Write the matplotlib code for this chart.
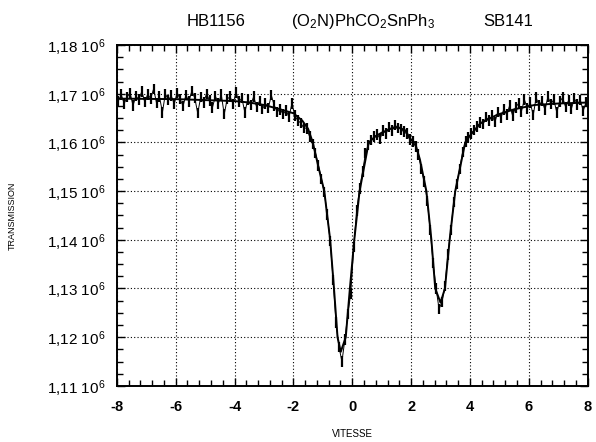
import numpy as np
import matplotlib
matplotlib.use("Agg")
import matplotlib.pyplot as plt
from matplotlib.ticker import MultipleLocator, FuncFormatter

plt.rcParams['font.family'] = ['Liberation Sans', 'DejaVu Sans']

# measured counts (x 1e6), one per channel from -7.95 to 7.95 mm/s
counts = [
    1.1685, 1.1698, 1.1680, 1.1693, 1.1702, 1.1676, 1.1695, 1.1688, 1.1705, 1.1683,
    1.1699, 1.1690, 1.1710, 1.1681, 1.1694, 1.1662, 1.1700, 1.1687, 1.1696, 1.1679,
    1.1702, 1.1689, 1.1675, 1.1697, 1.1684, 1.1706, 1.1691, 1.1660, 1.1693, 1.1682,
    1.1700, 1.1686, 1.1672, 1.1695, 1.1680, 1.1698, 1.1658, 1.1689, 1.1694, 1.1679,
    1.1703, 1.1684, 1.1691, 1.1662, 1.1688, 1.1677, 1.1694, 1.1673, 1.1685, 1.1669,
    1.1680, 1.1671, 1.1697, 1.1676, 1.1663, 1.1668, 1.1658, 1.1666, 1.1652, 1.1680,
    1.1655, 1.1645, 1.1640, 1.1630, 1.1629, 1.1612, 1.1597, 1.1578, 1.1553, 1.1525,
    1.1498, 1.1452, 1.1398, 1.1318, 1.1230, 1.1180, 1.1150, 1.1195, 1.1248, 1.1290,
    1.1385, 1.1460, 1.1505, 1.1540, 1.1578, 1.1595, 1.1605, 1.1612, 1.1616, 1.1608,
    1.1625, 1.1618, 1.1632, 1.1625, 1.1636, 1.1630, 1.1627, 1.1622, 1.1618, 1.1606,
    1.1602, 1.1592, 1.1575, 1.1545, 1.1520, 1.1480, 1.1420, 1.1352, 1.1300, 1.1258,
    1.1272, 1.1305, 1.1370, 1.1420, 1.1478, 1.1515, 1.1545, 1.1580, 1.1602, 1.1610,
    1.1618, 1.1626, 1.1633, 1.1641, 1.1638, 1.1652, 1.1645, 1.1655, 1.1642, 1.1663,
    1.1650, 1.1668, 1.1657, 1.1676, 1.1655, 1.1672, 1.1680, 1.1664, 1.1688, 1.1670,
    1.1682, 1.1656, 1.1692, 1.1676, 1.1685, 1.1667, 1.1694, 1.1679, 1.1688, 1.1662,
    1.1684, 1.1692, 1.1673, 1.1686, 1.1670, 1.1690, 1.1678, 1.1687, 1.1665, 1.1683,
]
velocity = np.linspace(-7.95, 7.95, len(counts))
errors = np.sqrt(np.array(counts) * 1e6) / 1e6

# fitted doublet
fit_v = [-8.0, -6.0, -5.0, -4.0, -3.5, -3.0, -2.5, -2.0, -1.7, -1.5, -1.34, -1.15,
         -0.95, -0.75, -0.62, -0.50, -0.39, -0.22, -0.08, 0.07, 0.25, 0.56, 0.8,
         1.0, 1.3, 1.57, 1.8, 2.0, 2.13, 2.3, 2.52, 2.69, 2.82, 3.0, 3.15, 3.31,
         3.5, 3.84, 4.0, 4.37, 4.93, 5.5, 6.2, 7.0, 8.0]
fit_t = [1.1690, 1.1689, 1.1687, 1.1685, 1.1682, 1.1677, 1.1669, 1.1660, 1.1645,
         1.1628, 1.1600, 1.1550, 1.1500, 1.1400, 1.1300, 1.1200, 1.1170, 1.1200,
         1.1300, 1.1400, 1.1500, 1.1600, 1.1613, 1.1620, 1.1628, 1.1631, 1.1625,
         1.1605, 1.1600, 1.1565, 1.1500, 1.1400, 1.1300, 1.1271, 1.1300, 1.1400,
         1.1500, 1.1600, 1.1614, 1.1640, 1.1657, 1.1668, 1.1677, 1.1680, 1.1682]

fig = plt.figure(figsize=(5.96, 4.42), dpi=100)
ax = fig.add_axes([0.196, 0.127, 0.790, 0.771])

ax.errorbar(velocity, counts, yerr=errors, fmt='none', ecolor='black',
            elinewidth=1.6, capsize=0)
ax.plot(velocity, counts, color='black', lw=0.7)
ax.plot(fit_v, fit_t, color='black', lw=1.4)

ax.set_xlim(-8, 8)
ax.set_ylim(1.11, 1.18)
ax.xaxis.set_major_locator(MultipleLocator(2))
ax.xaxis.set_minor_locator(MultipleLocator(0.4))
ax.yaxis.set_major_locator(MultipleLocator(0.01))
ax.yaxis.set_minor_locator(MultipleLocator(0.0025))
ax.yaxis.set_major_formatter(FuncFormatter(
    lambda y, pos: ('%.2f' % y).replace('.', ',') + r' $\mathregular{10^6}$'))
ax.xaxis.set_major_formatter(FuncFormatter(lambda x, pos: '%d' % round(x)))

ax.tick_params(which='both', direction='in', top=True, right=True, color='black')
ax.tick_params(which='major', length=6, width=1)
ax.tick_params(which='minor', length=4, width=1)
ax.tick_params(axis='y', labelsize=11, pad=8)
ax.tick_params(axis='x', labelsize=10.5, pad=10)
for lab in ax.get_xticklabels():
    lab.set_fontweight('bold')

ax.grid(True, which='major', color='black', linestyle=(0, (1, 2)), lw=0.8)
for side in ax.spines.values():
    side.set_linewidth(1.4)

ax.set_xlabel('VITESSE', fontsize=7, labelpad=11)
ax.set_ylabel('TRANSMISSION', fontsize=6.5, labelpad=22)

fig.text(0.362, 0.952, 'HB1156', fontsize=12, ha='center', va='center')
fig.text(0.610, 0.952, r'$\mathregular{(O_2N)PhCO_2SnPh_3}$', fontsize=12,
         ha='center', va='center')
fig.text(0.853, 0.952, 'SB141', fontsize=12, ha='center', va='center')

fig.savefig('out.png', dpi=100)
plt.close(fig)
